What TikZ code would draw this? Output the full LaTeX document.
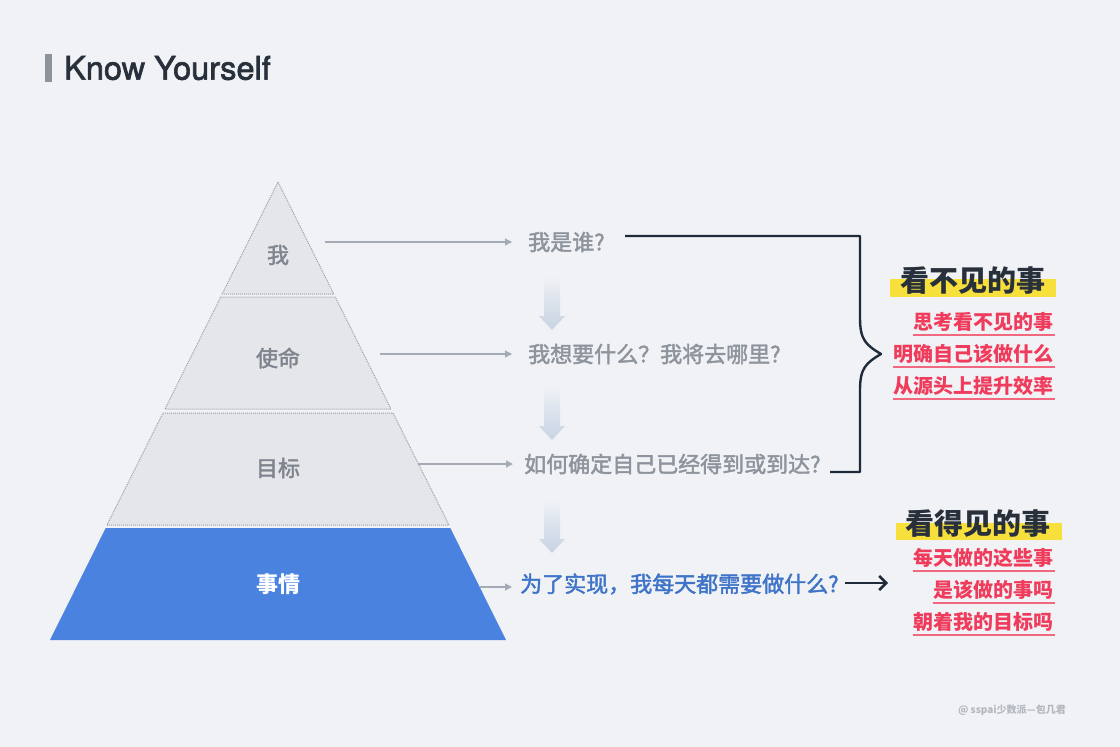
\documentclass[tikz,border=0pt]{standalone}
\usepackage{fontspec}
\setmainfont{TeX Gyre Heros}
\newfontfamily\titlefont[FakeBold=2]{TeX Gyre Heros}
\newfontfamily\cjk{Noto Sans CJK SC}
\newfontfamily\cjkmed[FakeBold=2]{Noto Sans CJK SC}
\usetikzlibrary{arrows.meta}
\definecolor{bg}{HTML}{F0F2F5}
\definecolor{tierfill}{HTML}{E5E6EA}
\definecolor{tierline}{HTML}{98A0AD}
\definecolor{pblue}{HTML}{4A82E0}
\definecolor{qblue}{HTML}{3F74C8}
\definecolor{lblgray}{HTML}{7F858F}
\definecolor{qgray}{HTML}{8E949D}
\definecolor{arrgray}{HTML}{A4ABB6}
\definecolor{dark}{HTML}{1F2B3B}
\definecolor{headc}{HTML}{28303C}
\definecolor{redc}{HTML}{F03C5C}
\definecolor{redl}{HTML}{F2687F}
\definecolor{hiyel}{HTML}{F8E03C}
\definecolor{bargray}{HTML}{8D939B}
\definecolor{wmgray}{HTML}{B3B7BE}
\definecolor{downc}{HTML}{C8D3E3}
\begin{document}
\begin{tikzpicture}[x=1pt,y=-1pt,
  tier/.style={fill=tierfill, draw=tierline, dash pattern=on 1pt off 1pt, line width=1pt},
  lbl/.style={font=\cjkmed\fontsize{22}{25}\selectfont, text=lblgray, inner sep=0pt},
  qtext/.style={font=\cjkmed\fontsize{22}{25}\selectfont, text=qgray, anchor=west, inner sep=0pt},
  garrow/.style={draw=arrgray, line width=1.2pt, -{Triangle[length=7pt,width=7pt]}},
  headtext/.style={font=\cjk\bfseries\fontsize{29}{32}\selectfont, text=headc, inner sep=0pt},
  redtext/.style={font=\cjk\bfseries\fontsize{20}{23}\selectfont, text=redc, anchor=east, inner xsep=1pt, inner ysep=0pt},
  uline/.style={draw=redl, line width=1.8pt},
  hilite/.style={fill=hiyel, draw=none},
  brace/.style={draw=dark, line width=2.4pt, line join=round},
  karrow/.style={draw=dark, line width=2.6pt, -{Straight Barb[length=7pt,width=14pt]}},
  downarrow/.style={top color=bg, bottom color=downc, middle color=downc!55!bg, draw=none}
]
\useasboundingbox (0,0) rectangle (1120,747);
\fill[bg] (0,0) rectangle (1120,747);

% title
\fill[bargray] (45,54) rectangle (52,82);
\node[anchor=west, inner sep=0pt, text=headc, font=\titlefont\fontsize{32.5}{37}\selectfont] (title) at (64,68) {Know Yourself};

% pyramid
\path[tier] (278,182) -- (333.8,294) -- (222.2,294) -- cycle;
\path[tier] (220.7,297) -- (335.3,297) -- (391,409) -- (165,409) -- cycle;
\path[tier] (163,413) -- (393,413) -- (449,525) -- (107,525) -- cycle;
\fill[pblue] (105.7,528) -- (450.3,528) -- (506,640) -- (50,640) -- cycle;

\node[lbl] (l1) at (278,255) {我};
\node[lbl] (l2) at (278,358) {使命};
\node[lbl] (l3) at (278,468) {目标};
\node[lbl, text=white, font=\cjk\bfseries\fontsize{22}{25}\selectfont] (l4) at (278,584) {事情};

% questions
\node[qtext] (q1) at (528,242) {我是谁?};
\node[qtext] (q2) at (528,354) {我想要什么？我将去哪里?};
\node[qtext] (q3) at (524,464) {如何确定自己已经得到或到达?};
\node[qtext, text=qblue] (q4) at (520,584) {为了实现，我每天都需要做什么?};

% connectors from pyramid
\coordinate (a1) at (325,242);
\coordinate (a2) at (380,354);
\coordinate (a3) at (418,464);
\coordinate (a4) at (480,587);
\draw[garrow, shorten >=16pt] (a1) -- (a1 -| q1.west);
\draw[garrow, shorten >=16pt] (a2) -- (a2 -| q2.west);
\draw[garrow, shorten >=11pt] (a3) -- (a3 -| q3.west);
\draw[garrow, shorten >=8pt] (a4) -- (a4 -| q4.west);

% faded down arrows
\shade[downarrow] (544,277) -- (560,277) -- (560,316) -- (565,316) -- (552,330) -- (539,316) -- (544,316) -- cycle;
\shade[downarrow] (544,387) -- (560,387) -- (560,426) -- (565,426) -- (552,440) -- (539,426) -- (544,426) -- cycle;
\shade[downarrow] (544,500) -- (560,500) -- (560,539) -- (565,539) -- (552,553) -- (539,539) -- (544,539) -- cycle;

% brace
\coordinate (bs) at (625,236);
\coordinate (be) at (830,472);
\draw[brace] (bs) -- (860,236) -- (860,318)
  .. controls (860,340) and (866,345) .. (881,354)
  .. controls (866,363) and (860,368) .. (860,390)
  -- (860,472) -- (be);

% invisible things
\fill[hilite] (890,279) rectangle (1056,297);
\node[headtext] (h1) at (973,281) {看不见的事};
\node[redtext] (r1) at (1055,322) {思考看不见的事};
\node[redtext] (r2) at (1055,354) {明确自己该做什么};
\node[redtext] (r3) at (1055,386) {从源头上提升效率};
\foreach \r in {r1,r2,r3}{
  \draw[uline] ([yshift=-13pt]\r.west) -- ([yshift=-13pt]\r.east);
}

% visible things
\coordinate (kend) at (888,583);
\draw[karrow, shorten <=6pt] (q4.east |- kend) -- (kend);
\fill[hilite] (896,523) rectangle (1062,540);
\node[headtext] (h2) at (978,524) {看得见的事};
\node[redtext] (r4) at (1055,558) {每天做的这些事};
\node[redtext] (r5) at (1055,590) {是该做的事吗};
\node[redtext] (r6) at (1055,622) {朝着我的目标吗};
\foreach \r in {r4,r5,r6}{
  \draw[uline] ([yshift=-13pt]\r.west) -- ([yshift=-13pt]\r.east);
}

% watermark
\node[anchor=east, inner sep=0pt, text=wmgray, font=\cjk\bfseries\fontsize{10}{12}\selectfont] (wm) at (1066,710) {@ sspai少数派—包几君};
\end{tikzpicture}
\end{document}
